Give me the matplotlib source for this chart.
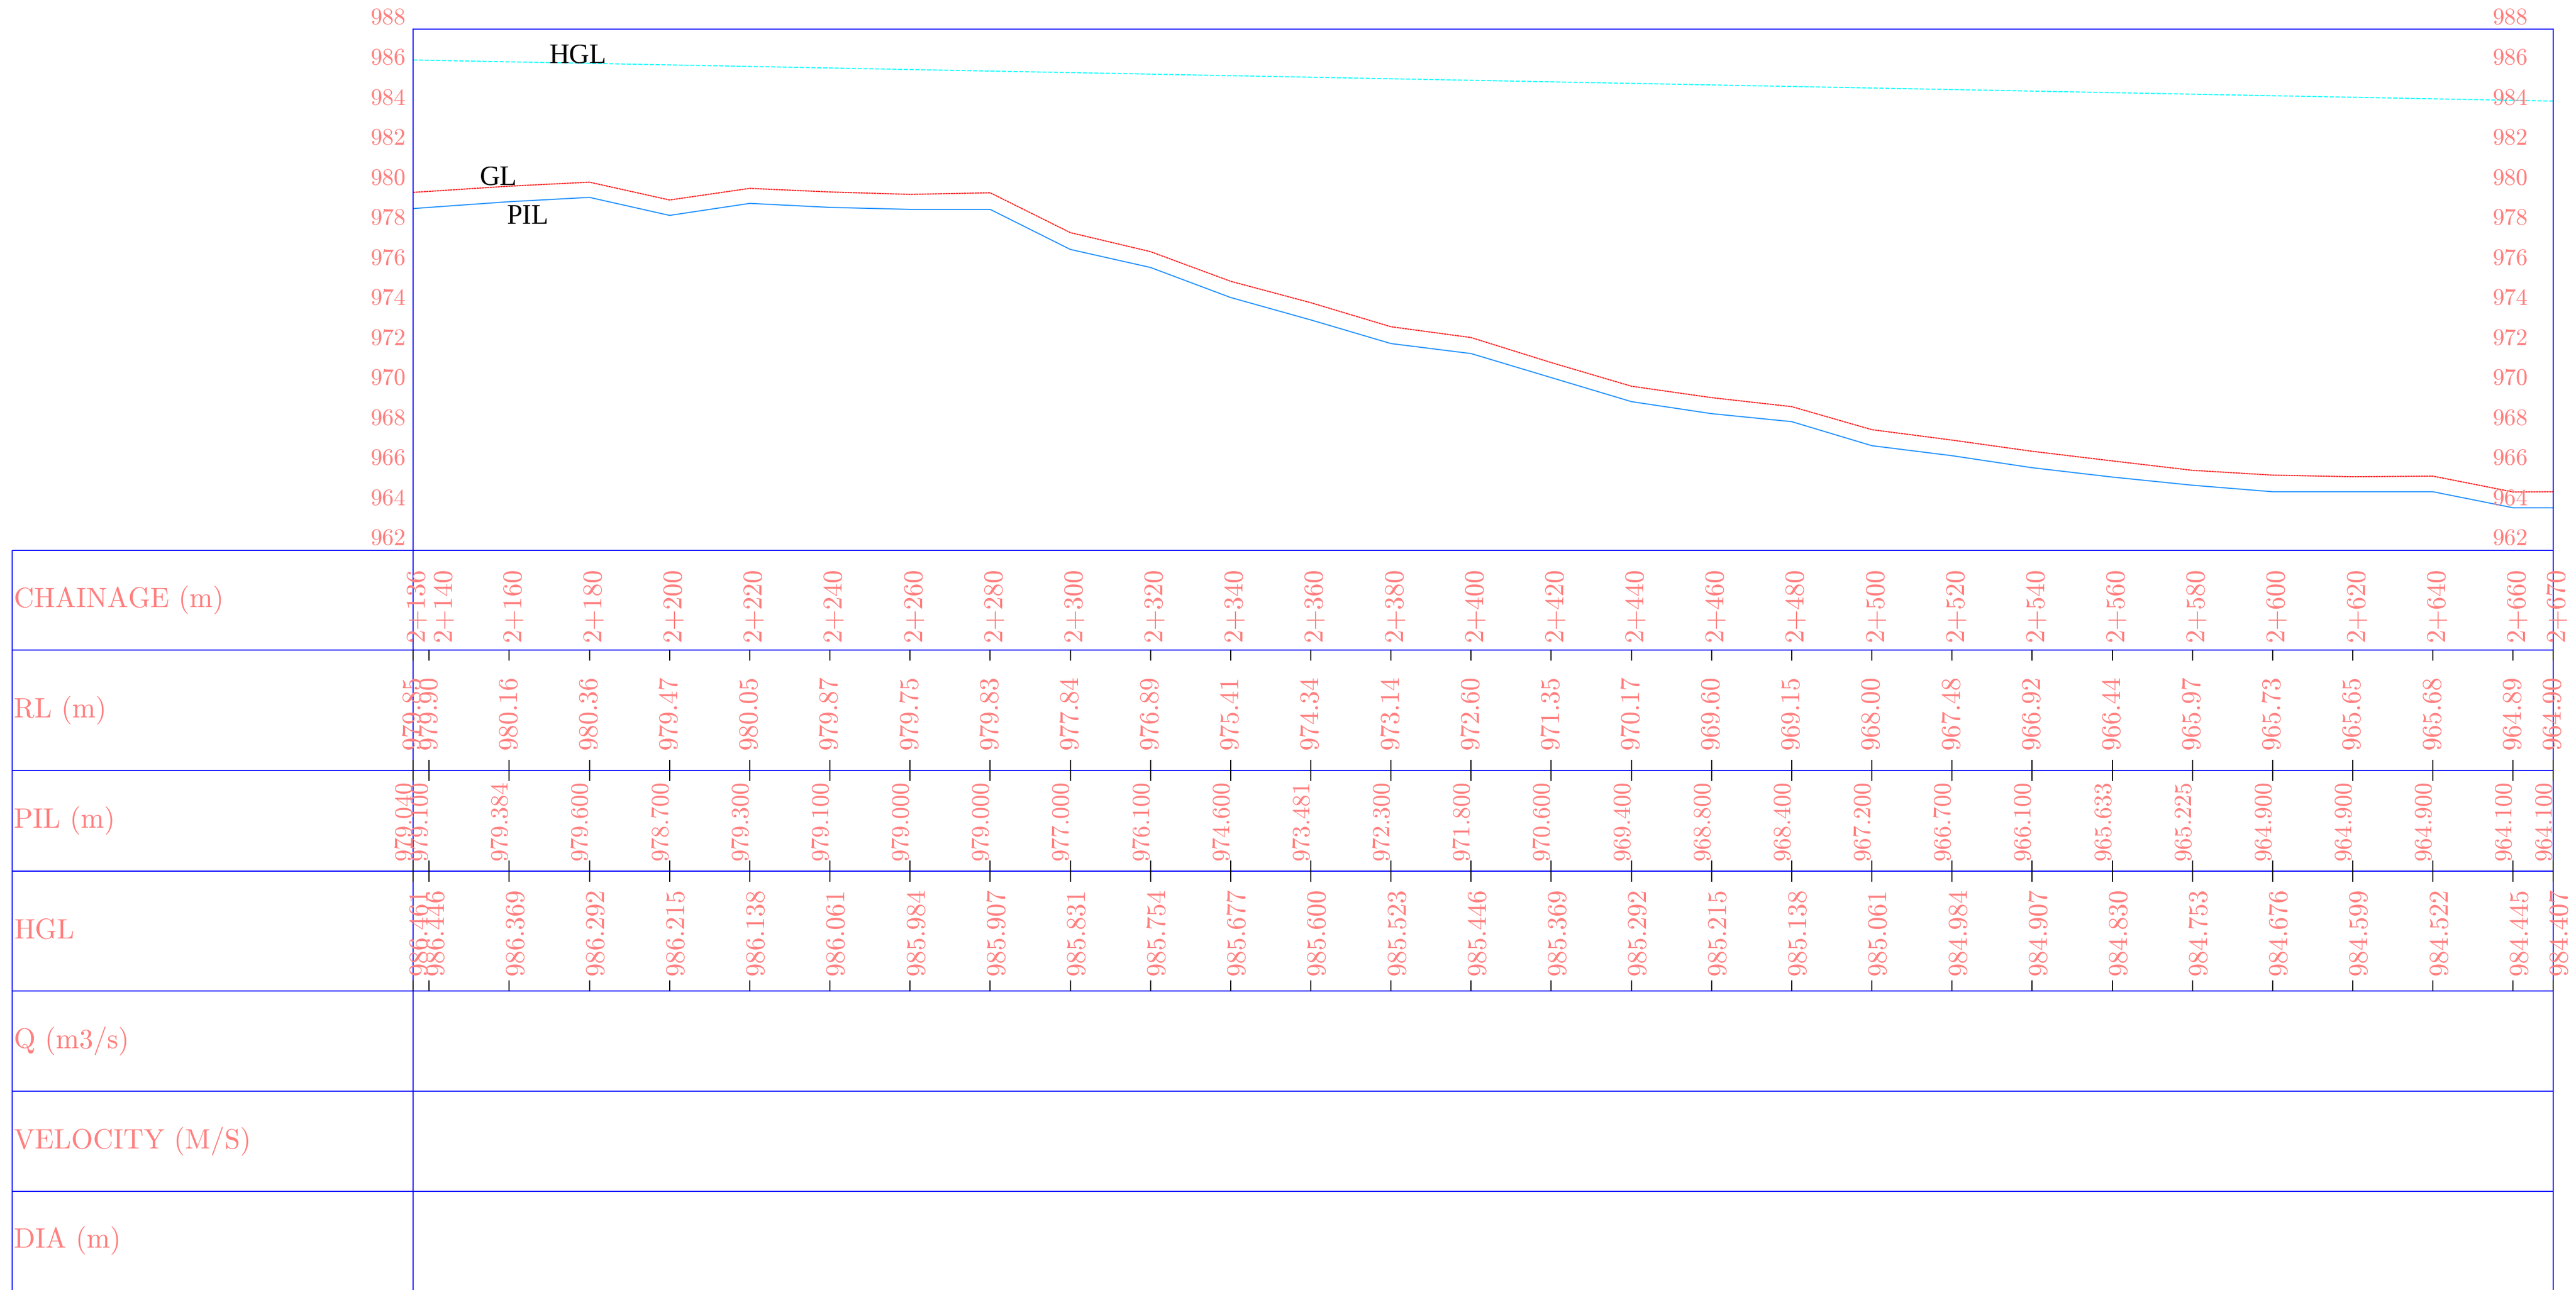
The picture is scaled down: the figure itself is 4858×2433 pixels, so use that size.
import matplotlib
matplotlib.use("Agg")
import matplotlib.pyplot as plt
from matplotlib.transforms import offset_copy

# chainage (m) and levels
chainage = [2136, 2140, 2160, 2180, 2200, 2220, 2240, 2260, 2280, 2300,
            2320, 2340, 2360, 2380, 2400, 2420, 2440, 2460, 2480, 2500,
            2520, 2540, 2560, 2580, 2600, 2620, 2640, 2660, 2670]
rl = [979.85, 979.90, 980.16, 980.36, 979.47, 980.05, 979.87, 979.75, 979.83, 977.84,
      976.89, 975.41, 974.34, 973.14, 972.60, 971.35, 970.17, 969.60, 969.15, 968.00,
      967.48, 966.92, 966.44, 965.97, 965.73, 965.65, 965.68, 964.89, 964.90]
pil = [979.040, 979.100, 979.384, 979.600, 978.700, 979.300, 979.100, 979.000, 979.000, 977.000,
       976.100, 974.600, 973.481, 972.300, 971.800, 970.600, 969.400, 968.800, 968.400, 967.200,
       966.700, 966.100, 965.633, 965.225, 964.900, 964.900, 964.900, 964.100, 964.100]
hgl = [986.461, 986.446, 986.369, 986.292, 986.215, 986.138, 986.061, 985.984, 985.907, 985.831,
       985.754, 985.677, 985.600, 985.523, 985.446, 985.369, 985.292, 985.215, 985.138, 985.061,
       984.984, 984.907, 984.830, 984.753, 984.676, 984.599, 984.522, 984.445, 984.407]
row_names = ["CHAINAGE (m)", "RL (m)", "PIL (m)", "HGL", "Q (m3/s)", "VELOCITY (M/S)", "DIA (m)"]
y_levels = list(range(962, 989, 2))

PINK = "#FF7F7F"
BLUE = "#0000FF"
plt.rcParams["font.family"] = "cmr10"
plt.rcParams["axes.formatter.use_mathtext"] = True

W, H = 4858, 2433
fig = plt.figure(figsize=(W / 100, H / 100), dpi=100)


def box(l, t, r, b):
    return [l / W, 1 - b / H, (r - l) / W, (b - t) / H]


# ---- profile ----
ax = fig.add_axes(box(779, 55, 4815, 1037))
ax.set_xlim(chainage[0], chainage[-1])
ax.set_ylim(y_levels[0], y_levels[-1])
ax.set_xticks([])
ax.set_yticks([])
for s in ax.spines.values():
    s.set_color(BLUE)
    s.set_linewidth(1.5)
ax.spines["bottom"].set_visible(False)

ax.plot(chainage, hgl, color="#00FFFF", lw=1.4, linestyle=(0, (4.1, 1.5)))
ax.plot(chainage, rl, color="#FF1A1A", lw=1.5, linestyle=(0, (2.0, 0.4)))
ax.plot(chainage, pil, color="#1E90FF", lw=1.5)

left_tr = offset_copy(ax.get_yaxis_transform(), fig=fig, x=-14, y=0, units="dots")
right_tr = offset_copy(ax.get_yaxis_transform(), fig=fig, x=-48, y=0, units="dots")
for v in y_levels:
    ax.text(0, v, str(v), transform=left_tr, ha="right", va="bottom", color=PINK, fontsize=32, clip_on=False)
    ax.text(1, v, str(v), transform=right_tr, ha="right", va="bottom", color=PINK, fontsize=32, clip_on=False)

for name, x, y in [("HGL", 2170, 986.32), ("GL", 2152.7, 980.23), ("PIL", 2159.3, 978.27)]:
    ax.text(x, y, name, ha="left", va="baseline", color="black", fontsize=38, family="Liberation Serif")

# ---- data table ----
px_per_m = (4815 - 779) / (chainage[-1] - chainage[0])
x_left = chainage[0] - (779 - 23) / px_per_m
row_h = [188, 227, 190, 226, 189, 189, 186]
edges = [0]
for h in row_h:
    edges.append(edges[-1] + h)

tab = fig.add_axes(box(23, 1038, 4815, 2433))
tab.set_xlim(x_left, chainage[-1])
tab.set_ylim(edges[-1], 0)
tab.axis("off")

tab.hlines(edges[:-1], x_left, chainage[-1], colors=BLUE, lw=1.5, clip_on=False)
tab.vlines([x_left, chainage[0], chainage[-1]], 0, edges[-1], colors=BLUE, lw=1.5, clip_on=False)

for i, name in enumerate(row_names):
    tab.annotate(name, (x_left, (edges[i] + edges[i + 1]) / 2), xytext=(3, 0),
                 textcoords="offset pixels", ha="left", va="center", color=PINK, fontsize=38)

# small ticks on the row boundaries
tk = 20
tab.vlines(chainage, edges[1], edges[1] + tk, colors="black", lw=1.5)
tab.vlines(chainage, edges[2] - tk, edges[2] + tk, colors="black", lw=1.5)
tab.vlines(chainage, edges[3] - tk, edges[3] + tk, colors="black", lw=1.5)
tab.vlines(chainage, edges[4] - tk, edges[4], colors="black", lw=1.5)

ch_labels = [f"{c // 1000}+{c % 1000:03d}" for c in chainage]
rows = [
    (ch_labels, 0, 16, 8, 36),
    ([f"{v:.2f}" for v in rl], 1, 40, 0, 36),
    ([f"{v:.3f}" for v in pil], 2, 20, -16, 33),
    ([f"{v:.3f}" for v in hgl], 3, 30, 13, 36),
]
for labels, r, gap, dx, fs in rows:
    for i, (c, txt) in enumerate(zip(chainage, labels)):
        shift = dx
        if r == 0 and i > 0 and (c - chainage[i - 1]) * px_per_m < 35:
            shift += 20
        tab.annotate(txt, (c, edges[r + 1] - gap), xytext=(shift, 0), textcoords="offset pixels",
                     rotation=90, ha="center", va="bottom", color=PINK, fontsize=fs,
                     annotation_clip=False)

fig.savefig("out.png", dpi=100)
